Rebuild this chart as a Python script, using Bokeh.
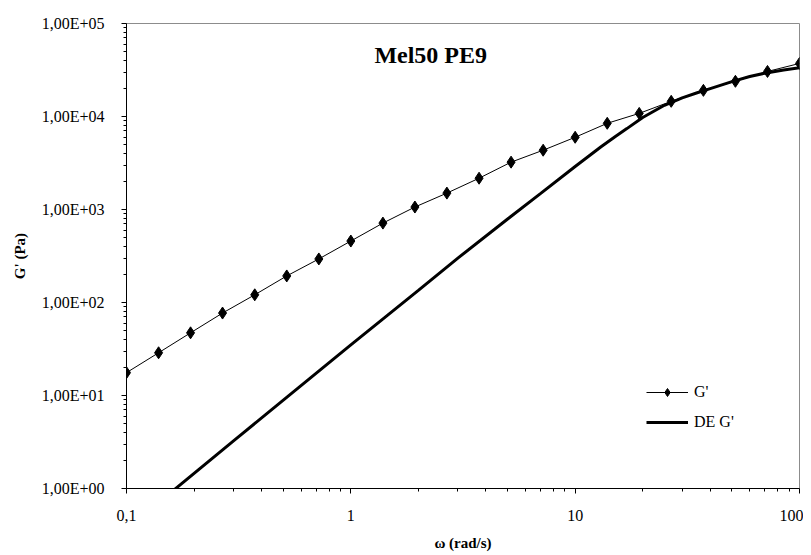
from bokeh.plotting import figure
from bokeh.models import (FixedTicker, CustomJSTickFormatter, Label, Legend, LegendItem, Range1d)
from bokeh.core.properties import value
from bokeh.embed import file_html
from bokeh.resources import INLINE

# ---- data ----
omega = [0.1, 0.139, 0.193, 0.268, 0.373, 0.518, 0.72, 1.0, 1.39, 1.93, 2.68,
         3.73, 5.18, 7.2, 10.0, 13.9, 19.3, 26.8, 37.3, 51.8, 72.0, 100.0]
g_prime = [17.6, 28.8, 47.2, 77, 121, 193, 294, 458, 714, 1063, 1500,
           2170, 3230, 4340, 5980, 8450, 10800, 14560, 19100, 23900, 30500, 37200]

de_omega = [0.15, 0.3, 0.5, 1, 2, 3, 5, 7, 10, 13, 15, 17, 20, 25, 30, 35, 40, 50, 60, 70, 85, 100]
de_g = [0.82, 3.25, 8.9, 35, 135, 300, 790, 1480, 2900, 4700, 6030, 7410, 9770,
        13200, 15850, 18000, 19950, 23700, 26900, 29200, 31600, 33500]

x_ticks = [0.1, 1, 10, 100]
x_tick_labels = ["0,1", "1", "10", "100"]
y_ticks = [1, 10, 100, 1000, 10000, 100000]
y_tick_labels = ["1,00E+00", "1,00E+01", "1,00E+02", "1,00E+03", "1,00E+04", "1,00E+05"]

title_text = "Mel50 PE9"
x_title = "\u03c9 (rad/s)"
y_title = "G' (Pa)"
series_names = ["G'", "DE G'"]

FONT = "Liberation Serif"

p = figure(width=803, height=553, x_axis_type="log", y_axis_type="log",
           x_range=Range1d(0.1, 100), y_range=Range1d(1, 100000),
           output_backend="svg", toolbar_location=None,
           min_border_left=126, min_border_right=4, min_border_top=23, min_border_bottom=64)

p.background_fill_color = "white"
p.border_fill_color = "white"
p.outline_line_color = "#8c8c8c"
p.outline_line_width = 1
p.xgrid.visible = False
p.ygrid.visible = False

minor_x = [m * 10.0 ** e for e in range(-1, 2) for m in range(2, 10)]
minor_y = [m * 10.0 ** e for e in range(0, 5) for m in range(2, 10)]
p.xaxis.ticker = FixedTicker(ticks=x_ticks, minor_ticks=minor_x)
p.yaxis.ticker = FixedTicker(ticks=y_ticks, minor_ticks=minor_y)

code = """
let best = 0; let d = Infinity;
for (let i = 0; i < tvals.length; i++) {
  const e = Math.abs(Math.log10(tick) - Math.log10(tvals[i]));
  if (e < d) { d = e; best = i; }
}
return tlabels[best];
"""
p.xaxis.formatter = CustomJSTickFormatter(args=dict(tvals=x_ticks, tlabels=x_tick_labels), code=code)
p.yaxis.formatter = CustomJSTickFormatter(args=dict(tvals=y_ticks, tlabels=y_tick_labels), code=code)

for ax in (p.xaxis, p.yaxis):
    ax.axis_line_color = "black"
    ax.axis_line_width = 1
    ax.major_tick_line_color = "black"
    ax.minor_tick_line_color = "black"
    ax.major_tick_in = 0
    ax.major_tick_out = 5
    ax.minor_tick_in = 0
    ax.minor_tick_out = 3
    ax.major_label_text_font = FONT
    ax.major_label_text_font_size = "16px"
    ax.major_label_text_color = "black"
    ax.axis_label_text_font = FONT
    ax.axis_label_text_font_size = "15px"
    ax.axis_label_text_font_style = "bold"
    ax.axis_label_text_color = "black"

p.xaxis.axis_label = x_title
p.yaxis.axis_label = y_title
p.xaxis.major_label_standoff = 16
p.xaxis.axis_label_standoff = 11
p.yaxis.major_label_standoff = 17
p.yaxis.axis_label_standoff = 11

l1 = p.line(omega, g_prime, line_color="black", line_width=1)
s1 = p.scatter(omega, g_prime, marker="diamond", size=12, fill_color="black", line_color="black")
l2 = p.line(de_omega, de_g, line_color="black", line_width=3)

legend = Legend(items=[LegendItem(label=series_names[0], renderers=[l1, s1]),
                       LegendItem(label=series_names[1], renderers=[l2])],
                location=(520, 56), orientation="vertical",
                background_fill_alpha=0, border_line_color=None,
                padding=0, margin=0, spacing=10,
                glyph_width=42, glyph_height=20, label_height=20,
                label_standoff=6,
                label_text_font=FONT, label_text_font_size="16px", label_text_color="black")
p.add_layout(legend)

p.add_layout(Label(x=2.27, y=46400, text=title_text, text_align="center", text_baseline="middle",
                   text_font=FONT, text_font_size="24px", text_font_style="bold", text_color="black"))

open("out.html", "w").write(file_html(p, INLINE))
